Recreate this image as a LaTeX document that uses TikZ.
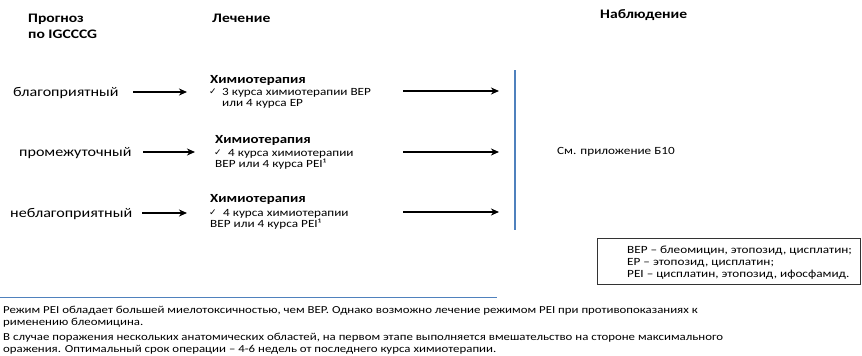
\documentclass[tikz,border=0pt]{standalone}
\usepackage{fontspec}
\setmainfont{Carlito}[FakeStretch=1.2]
\newfontfamily\symfont{DejaVu Sans}
\usetikzlibrary{arrows.meta}
\definecolor{lineblue}{HTML}{4F81BD}
\begin{document}
\begin{tikzpicture}[x=1pt,y=-1pt,
  txt/.style={anchor=base west,inner sep=0pt,font=\fontsize{11}{12}\selectfont},
  foot/.style={txt,font=\fontsize{10.7}{12}\selectfont},
  lbl/.style={txt,font=\fontsize{13.4}{14}\selectfont},
  head/.style={txt,font=\fontsize{13}{14}\selectfont\bfseries},
  btxt/.style={txt,font=\fontsize{12.4}{12}\selectfont\bfseries},
  arr/.style={line width=1.4pt,-{Stealth[length=8pt,width=7pt,inset=2.5pt]}},
  chk/.style={anchor=base west,inner sep=0pt,font=\symfont\fontsize{9}{9}\selectfont}]
\useasboundingbox (0,0) rectangle (862,356);
% headers
\node[head] (h1) at (28,22) {Прогноз};
\node[head] (h2) at (28,38) {по IGCCCG};
\node[head] (h3) at (212,22) {Лечение};
\node[head] (h4) at (600,19) {Наблюдение};
% row 1
\node[lbl] (p1) at (13,96) {благоприятный};
\node[btxt] (t1h) at (210,83) {Химиотерапия};
\node[chk] (t1c) at (209,94) {✓};
\node[txt] (t1a) at (222,95) {3 курса химиотерапии BEP};
\node[txt] (t1b) at (222,106) {или 4 курса EP};
% row 2
\node[lbl] (p2) at (19,156) {промежуточный};
\node[btxt] (t2h) at (215,143) {Химиотерапия};
\node[chk] (t2c) at (214,155) {✓};
\node[txt] (t2a) at (228,156) {4 курса химиотерапии};
\node[txt] (t2b) at (215,167) {BEP или 4 курса PEI¹};
% row 3
\node[lbl] (p3) at (10,217) {неблагоприятный};
\node[btxt] (t3h) at (210,202) {Химиотерапия};
\node[chk] (t3c) at (209,215) {✓};
\node[txt] (t3a) at (223,216) {4 курса химиотерапии};
\node[txt] (t3b) at (210,227) {BEP или 4 курса PEI¹};
% arrows
\coordinate (a1s) at (133,92); \coordinate (a1e) at (187,92);
\coordinate (a2s) at (143,152); \coordinate (a2e) at (195,152);
\coordinate (a3s) at (142,213); \coordinate (a3e) at (187,213);
\coordinate (b1s) at (403,91); \coordinate (b1e) at (499,91);
\coordinate (b2s) at (403,152); \coordinate (b2e) at (499,152);
\coordinate (b3s) at (403,212); \coordinate (b3e) at (499,212);
\foreach \s/\e in {a1s/a1e,a2s/a2e,a3s/a3e,b1s/b1e,b2s/b2e,b3s/b3e}
  \draw[arr] (\s) -- (\e);
% vertical bar
\coordinate (v1) at (515,70); \coordinate (v2) at (515,230);
\draw[lineblue,line width=1.4pt] (v1) -- (v2);
\node[txt] (obs) at (557,154) {См. приложение Б10};
% legend box
\node[draw=black!80,line width=0.8pt,minimum width=263pt,minimum height=46pt,inner sep=0pt,anchor=north west] (box) at (597,238) {};
\node[txt] (l1) at (627,253) {BEP – блеомицин, этопозид, цисплатин;};
\node[txt] (l2) at (627,265) {EP – этопозид, цисплатин;};
\node[txt] (l3) at (627,277) {PEI – цисплатин, этопозид, ифосфамид.};
% separator
\coordinate (s1) at (0,297); \coordinate (s2) at (497,297);
\draw[lineblue,line width=0.8pt] (s1) -- (s2);
% footnotes
\node[foot] (f1) at (3,313) {Режим PEI обладает большей миелотоксичностью, чем BEP. Однако возможно лечение режимом PEI при противопоказаниях к};
\node[foot] (f2) at (3,325) {рименению блеомицина.};
\node[foot] (f3) at (3,340) {В случае поражения нескольких анатомических областей, на первом этапе выполняется вмешательство на стороне максимального};
\node[foot] (f4) at (3,352) {оражения. Оптимальный срок операции – 4-6 недель от последнего курса химиотерапии.};
\end{tikzpicture}
\end{document}
